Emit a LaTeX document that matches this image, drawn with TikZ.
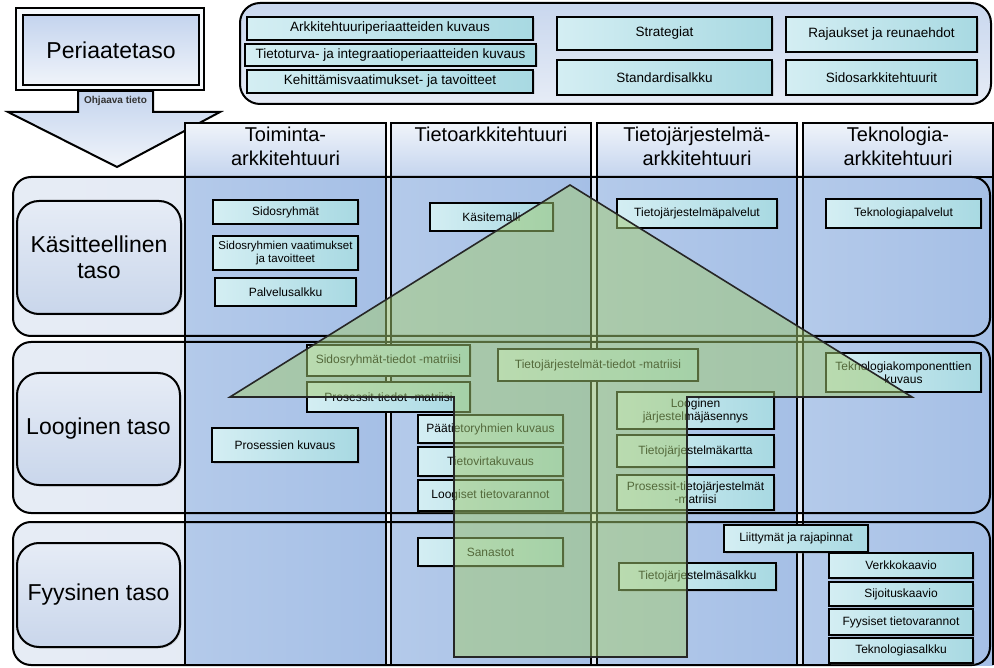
\documentclass[tikz,border=0pt]{standalone}
\usepackage{fontspec}
\setmainfont{Liberation Sans}
\usetikzlibrary{shadows}
\definecolor{boxL}{HTML}{D4EEF3}
\definecolor{boxR}{HTML}{A8D9E2}
\definecolor{colBody}{HTML}{A5BFE6}
\definecolor{colBodyL}{HTML}{B4CAEA}
\definecolor{hdrTop}{HTML}{F0F4FA}
\definecolor{hdrBot}{HTML}{C4D4EE}
\definecolor{rowFill}{HTML}{DCE4F1}
\definecolor{lblTop}{HTML}{E6ECF6}
\definecolor{lblBot}{HTML}{C9D6EB}
\definecolor{barTop}{HTML}{C9D7EE}
\definecolor{barBot}{HTML}{E6ECF6}
\definecolor{houseGreen}{HTML}{A2CA72}
\newcommand{\bx}[7][box]{\node[#1, minimum width={(#5-#3)*1pt}, minimum height={(#6-#4)*1pt}] (#2) at ({(#3+#5)/2},{(#4+#6)/2}) {#7};}
\begin{document}
\begin{tikzpicture}[x=1pt,y=-1pt,
  box/.style={draw=black, line width=2pt, left color=boxL, right color=boxR, align=center, inner sep=1pt,
    font=\fontsize{12}{13}\selectfont, drop shadow={shadow xshift=1.5pt, shadow yshift=-1.5pt, opacity=0.25}},
  topbox/.style={box, font=\fontsize{13.5}{15}\selectfont},
  lbl/.style={draw=black, line width=2pt, rounded corners=22pt, top color=lblTop, bottom color=lblBot, align=center,
    font=\fontsize{23}{26}\selectfont, drop shadow={shadow xshift=1.5pt, shadow yshift=-1.5pt, opacity=0.2}},
  hdr/.style={anchor=north, align=center, inner sep=0pt, font=\fontsize{20}{24}\selectfont},
  rowband/.style={rounded corners=18pt},
  colline/.style={draw=black, line width=2pt},
]
\useasboundingbox (0,0) rectangle (994,668);
\fill[white] (0,0) rectangle (994,668);

% ---------- Periaatetaso and guiding arrow ----------
\path[draw=black, line width=2pt, fill=white!85!hdrBot] (16,8) rectangle (204,90);
\node[draw=black, line width=2pt, top color=hdrBot, bottom color=hdrTop, minimum width=176pt, minimum height=70pt,
  font=\fontsize{23}{26}\selectfont] (peri) at (111,50) {Periaatetaso};
\path[draw=black, line width=2pt, top color=hdrBot, bottom color=hdrTop]
  (78,91) -- (153,91) -- (153,112) -- (220,112) -- (117,167) -- (8,112) -- (78,112) -- cycle;
\node[font=\bfseries\fontsize{10}{11}\selectfont, text=black!80] (ohj) at (115.5,101) {Ohjaava tieto};

% ---------- top bar ----------
\path[draw=black, line width=2pt, rounded corners=20pt, top color=barTop, bottom color=barBot] (240,3) rectangle (991,104);
\bx[topbox]{t1}{247}{17}{533}{40}{Arkkitehtuuriperiaatteiden kuvaus}
\bx[topbox]{t2}{245}{44}{536}{66}{Tietoturva- ja integraatioperiaatteiden kuvaus}
\bx[topbox]{t3}{247}{70}{533}{93}{Kehittämisvaatimukset- ja tavoitteet}
\bx[topbox]{t4}{557}{17}{772}{50}{Strategiat}
\bx[topbox]{t5}{557}{60}{772}{95}{Standardisalkku}
\bx[topbox]{t6}{786}{17}{977}{52}{Rajaukset ja reunaehdot}
\bx[topbox]{t7}{786}{60}{977}{95}{Sidosarkkitehtuurit}

% ---------- row band fills ----------
\fill[rowband, left color=rowFill!70!white, right color=rowFill] (13,177) rectangle (990,336);
\fill[rowband, left color=rowFill!70!white, right color=rowFill] (13,342) rectangle (990,513);
\fill[rowband, left color=rowFill!70!white, right color=rowFill] (13,522) rectangle (990,665);

% ---------- column fills ----------
\foreach \xa/\xb in {185/386, 391/591, 597/797, 803/993}{
  \fill[left color=colBodyL, right color=colBody] (\xa,177) rectangle (\xb,665);
  \fill[top color=hdrTop, bottom color=hdrBot] (\xa,123) rectangle (\xb,177);
}

% ---------- outlines ----------
\draw[rowband, line width=2pt] (13,177) rectangle (990,336);
\draw[rowband, line width=2pt] (13,342) rectangle (990,513);
\draw[rowband, line width=2pt] (13,522) rectangle (990,665);
\foreach \xa/\xb in {185/386, 391/591, 597/797, 803/993}{
  \draw[colline] (\xa,665) -- (\xa,123) -- (\xb,123) -- (\xb,665);
  \draw[colline] (\xa,177) -- (\xb,177);
}

% ---------- column headers ----------
\node[hdr] (h1) at (285.5,127) {Toiminta-\\arkkitehtuuri};
\node[hdr] (h2) at (491,127) {Tietoarkkitehtuuri};
\node[hdr] (h3) at (697,127) {Tietojärjestelmä-\\arkkitehtuuri};
\node[hdr] (h4) at (898,127) {Teknologia-\\arkkitehtuuri};

% ---------- row labels ----------
\bx[lbl]{l1}{17}{201}{181}{314}{Käsitteellinen\\taso}
\bx[lbl]{l2}{17}{373}{180}{485}{Looginen taso}
\bx[lbl]{l3}{17}{543}{180}{647}{Fyysinen taso}

% ---------- Käsitteellinen ----------
\bx{k1}{213}{200}{358}{224}{Sidosryhmät}
\bx[box, font=\fontsize{11.5}{12.5}\selectfont]{k2}{213}{236}{358}{270}{Sidosryhmien vaatimukset\\ja tavoitteet}
\bx{k3}{215}{278}{356}{306}{Palvelusalkku}
\bx{k4}{430}{203}{553}{231}{Käsitemalli}
\bx{k5}{617}{199}{777}{228}{Tietojärjestelmäpalvelut}
\bx{k6}{826}{199}{981}{228}{Teknologiapalvelut}

% ---------- Looginen ----------
\bx{g1}{307}{345}{470}{376}{Sidosryhmät-tiedot -matriisi}
\bx{g2}{307}{382}{470}{412}{Prosessit-tiedot -matriisi}
\bx{g3}{498}{349}{698}{381}{Tietojärjestelmät-tiedot -matriisi}
\bx{g4}{826}{353}{981}{392}{Teknologiakomponenttien\\kuvaus}
\bx{g5}{212}{428}{358}{462}{Prosessien kuvaus}
\bx{g6}{418}{415}{563}{443}{Päätietoryhmien kuvaus}
\bx{g7}{418}{447}{563}{476}{Tietovirtakuvaus}
\bx{g8}{418}{480}{563}{511}{Loogiset tietovarannot}
\bx{g9}{617}{392}{774}{429}{Looginen\\järjestelmäjäsennys}
\bx{g10}{617}{435}{774}{467}{Tietojärjestelmäkartta}
\bx{g11}{617}{475}{774}{510}{Prosessit-tietojärjestelmät\\-matriisi}

% ---------- Fyysinen ----------
\bx{f1}{418}{538}{563}{566}{Sanastot}
\bx{f2}{724}{525}{868}{552}{Liittymät ja rajapinnat}
\bx{f3}{619}{563}{776}{590}{Tietojärjestelmäsalkku}
\bx{f4}{829}{553}{973}{578}{Verkkokaavio}
\bx{f5}{829}{582}{973}{606}{Sijoituskaavio}
\bx{f6}{829}{609}{973}{635}{Fyysiset tietovarannot}
\bx{f7}{829}{638}{973}{663}{Teknologiasalkku}

% ---------- green house arrow ----------
\path[fill=houseGreen, fill opacity=0.52, draw=black!85, line width=1.6pt, line join=miter]
  (570,185) -- (912,397) -- (687,397) -- (687,657) -- (454,657) -- (454,397) -- (230,397) -- cycle;
\end{tikzpicture}
\end{document}
